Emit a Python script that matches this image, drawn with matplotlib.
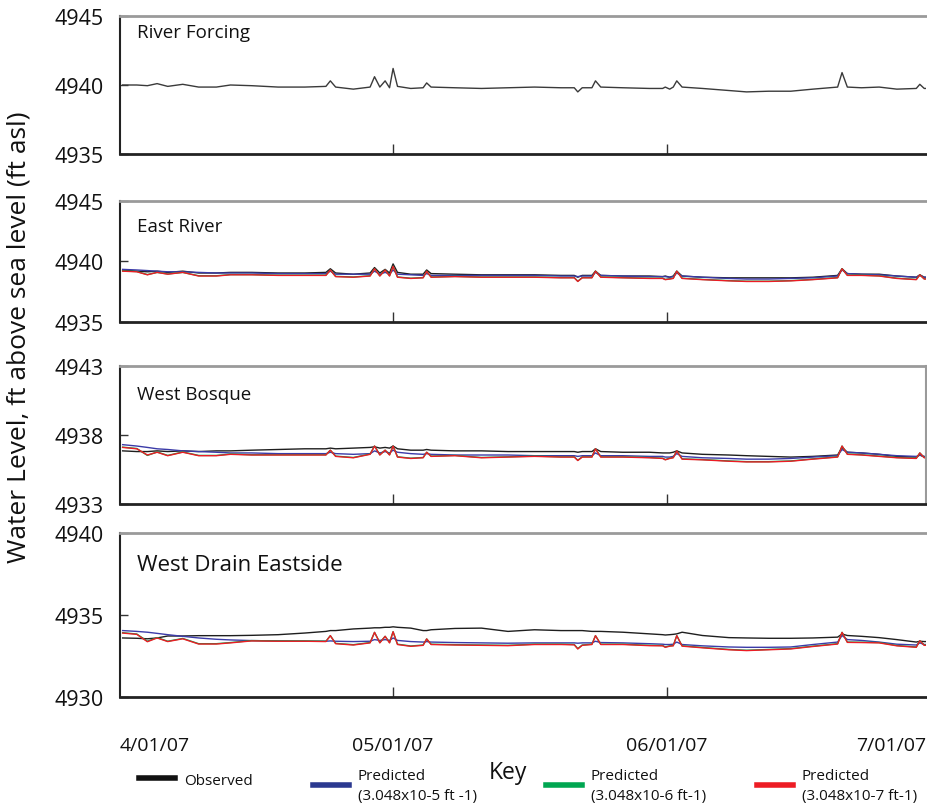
import matplotlib
matplotlib.use("Agg")
import matplotlib.pyplot as plt
from matplotlib.lines import Line2D

plt.rcParams['font.family'] = ['Open Sans', 'DejaVu Sans']

# ---------------- data (days since 4/01/07) ----------------
day = [-0.6, 1.0, 2.2, 3.3, 4.5, 6.2, 8.0, 10.0, 11.6, 14.0, 17.0, 20.0, 22.4, 22.9, 23.5,
       25.5, 27.4, 27.9, 28.5, 29.1, 29.6, 30.0, 30.5, 32.0, 33.4, 33.8, 34.3, 37.0, 40.0,
       43.0, 46.0, 49.0, 50.5, 50.9, 51.4, 52.5, 52.9, 53.5, 56.0, 59.0, 60.5, 60.8, 61.3,
       61.7, 62.1, 62.7, 65.0, 68.0, 70.0, 72.5, 75.0, 77.5, 80.3, 80.8, 81.4, 83.0, 85.0,
       87.0, 89.2, 89.6, 90.1, 91.5]

river_forcing = [4940.0, 4940.0, 4939.95, 4940.1, 4939.9, 4940.05, 4939.85, 4939.85, 4940.0, 4939.95,
                 4939.85, 4939.85, 4939.9, 4940.3, 4939.85, 4939.7, 4939.85, 4940.6, 4939.85, 4940.3,
                 4939.8, 4941.2, 4939.9, 4939.75, 4939.8, 4940.15, 4939.85, 4939.8, 4939.75, 4939.8,
                 4939.85, 4939.8, 4939.8, 4939.5, 4939.8, 4939.8, 4940.3, 4939.85, 4939.8, 4939.75,
                 4939.75, 4939.85, 4939.7, 4939.85, 4940.3, 4939.85, 4939.75, 4939.6, 4939.5, 4939.55,
                 4939.55, 4939.7, 4939.85, 4940.9, 4939.85, 4939.8, 4939.85, 4939.7, 4939.75, 4940.05,
                 4939.75, 4939.75]

er_obs = [4939.3, 4939.2, 4939.15, 4939.2, 4939.1, 4939.2, 4939.05, 4939.05, 4939.1, 4939.1,
          4939.05, 4939.05, 4939.1, 4939.4, 4939.05, 4938.95, 4939.05, 4939.5, 4939.05, 4939.35,
          4939.05, 4939.8, 4939.1, 4938.95, 4938.95, 4939.3, 4939.0, 4938.95, 4938.9, 4938.9,
          4938.9, 4938.85, 4938.85, 4938.7, 4938.85, 4938.85, 4939.2, 4938.85, 4938.8, 4938.8,
          4938.75, 4938.8, 4938.7, 4938.8, 4939.2, 4938.8, 4938.7, 4938.65, 4938.65, 4938.65,
          4938.65, 4938.7, 4938.85, 4939.4, 4939.0, 4938.95, 4938.95, 4938.8, 4938.7, 4938.9,
          4938.7, 4938.7]
er_p5 = [4939.35, 4939.3, 4939.25, 4939.2, 4939.15, 4939.15, 4939.1, 4939.05, 4939.05, 4939.05,
         4939.0, 4939.0, 4939.0, 4939.2, 4938.95, 4938.95, 4938.95, 4939.2, 4938.95, 4939.1,
         4938.95, 4939.3, 4938.95, 4938.9, 4938.85, 4939.0, 4938.85, 4938.85, 4938.85, 4938.85,
         4938.85, 4938.8, 4938.8, 4938.75, 4938.8, 4938.8, 4939.1, 4938.85, 4938.8, 4938.75,
         4938.75, 4938.75, 4938.7, 4938.75, 4939.05, 4938.8, 4938.7, 4938.6, 4938.55, 4938.55,
         4938.6, 4938.65, 4938.8, 4939.3, 4939.0, 4938.95, 4938.9, 4938.8, 4938.7, 4938.85,
         4938.7, 4938.65]
er_p6 = [4939.22, 4939.17, 4938.92, 4939.1, 4938.97, 4939.1, 4938.82, 4938.82, 4938.92, 4938.92,
         4938.87, 4938.87, 4938.87, 4939.3, 4938.77, 4938.72, 4938.82, 4939.4, 4938.82, 4939.3,
         4938.82, 4939.6, 4938.72, 4938.62, 4938.67, 4939.2, 4938.72, 4938.77, 4938.72, 4938.72,
         4938.72, 4938.67, 4938.67, 4938.37, 4938.67, 4938.67, 4939.2, 4938.72, 4938.67, 4938.62,
         4938.62, 4938.52, 4938.57, 4938.62, 4939.2, 4938.62, 4938.52, 4938.42, 4938.37, 4938.37,
         4938.42, 4938.52, 4938.67, 4939.4, 4938.87, 4938.87, 4938.82, 4938.62, 4938.52, 4938.9,
         4938.57, 4938.57]
er_p7 = [4939.2, 4939.15, 4938.9, 4939.1, 4938.95, 4939.1, 4938.8, 4938.8, 4938.9, 4938.9,
         4938.85, 4938.85, 4938.85, 4939.3, 4938.75, 4938.7, 4938.8, 4939.4, 4938.8, 4939.3,
         4938.8, 4939.6, 4938.7, 4938.6, 4938.65, 4939.2, 4938.7, 4938.75, 4938.7, 4938.7,
         4938.7, 4938.65, 4938.65, 4938.35, 4938.65, 4938.65, 4939.2, 4938.7, 4938.65, 4938.6,
         4938.6, 4938.5, 4938.55, 4938.6, 4939.2, 4938.6, 4938.5, 4938.4, 4938.35, 4938.35,
         4938.4, 4938.5, 4938.65, 4939.4, 4938.85, 4938.85, 4938.8, 4938.6, 4938.5, 4938.9,
         4938.55, 4938.55]

wb_obs = [4936.85, 4936.8, 4936.8, 4936.85, 4936.8, 4936.85, 4936.8, 4936.85, 4936.85, 4936.9,
          4936.95, 4937.0, 4937.0, 4937.05, 4937.0, 4937.05, 4937.1, 4937.15, 4937.05, 4937.1,
          4937.05, 4937.2, 4937.0, 4936.9, 4936.9, 4936.95, 4936.9, 4936.85, 4936.85, 4936.8,
          4936.8, 4936.8, 4936.8, 4936.75, 4936.8, 4936.8, 4937.0, 4936.8, 4936.75, 4936.75,
          4936.7, 4936.7, 4936.7, 4936.75, 4936.85, 4936.7, 4936.6, 4936.55, 4936.5, 4936.45,
          4936.4, 4936.45, 4936.55, 4937.1, 4936.75, 4936.7, 4936.6, 4936.45, 4936.4, 4936.55,
          4936.4, 4936.4]
wb_p5 = [4937.3, 4937.2, 4937.1, 4937.0, 4936.95, 4936.85, 4936.8, 4936.75, 4936.7, 4936.7,
         4936.65, 4936.65, 4936.65, 4936.75, 4936.65, 4936.6, 4936.65, 4936.85, 4936.7, 4936.8,
         4936.7, 4936.9, 4936.75, 4936.65, 4936.6, 4936.65, 4936.6, 4936.55, 4936.55, 4936.55,
         4936.5, 4936.5, 4936.5, 4936.45, 4936.5, 4936.5, 4936.7, 4936.5, 4936.5, 4936.45,
         4936.45, 4936.4, 4936.4, 4936.45, 4936.65, 4936.45, 4936.35, 4936.3, 4936.25, 4936.25,
         4936.3, 4936.4, 4936.5, 4936.95, 4936.75, 4936.7, 4936.6, 4936.5, 4936.45, 4936.55,
         4936.45, 4936.45]
wb_p6 = [4937.12, 4937.02, 4936.52, 4936.77, 4936.52, 4936.77, 4936.52, 4936.52, 4936.62, 4936.57,
         4936.57, 4936.57, 4936.57, 4936.9, 4936.47, 4936.37, 4936.62, 4937.2, 4936.57, 4936.9,
         4936.57, 4937.2, 4936.42, 4936.32, 4936.37, 4936.75, 4936.47, 4936.52, 4936.37, 4936.42,
         4936.47, 4936.42, 4936.42, 4936.17, 4936.42, 4936.42, 4937.0, 4936.42, 4936.42, 4936.37,
         4936.32, 4936.22, 4936.32, 4936.37, 4936.85, 4936.27, 4936.22, 4936.12, 4936.07, 4936.07,
         4936.12, 4936.27, 4936.42, 4937.2, 4936.62, 4936.57, 4936.47, 4936.37, 4936.32, 4936.7,
         4936.37, 4936.42]
wb_p7 = [4937.1, 4937.0, 4936.55, 4936.75, 4936.5, 4936.75, 4936.5, 4936.5, 4936.6, 4936.55,
         4936.55, 4936.55, 4936.55, 4936.9, 4936.45, 4936.35, 4936.6, 4937.2, 4936.55, 4936.9,
         4936.55, 4937.2, 4936.4, 4936.3, 4936.35, 4936.75, 4936.45, 4936.5, 4936.35, 4936.4,
         4936.45, 4936.4, 4936.4, 4936.15, 4936.4, 4936.4, 4937.0, 4936.4, 4936.4, 4936.35,
         4936.3, 4936.2, 4936.3, 4936.35, 4936.85, 4936.25, 4936.2, 4936.1, 4936.05, 4936.05,
         4936.1, 4936.25, 4936.4, 4937.2, 4936.6, 4936.55, 4936.45, 4936.35, 4936.3, 4936.7,
         4936.35, 4936.4]

wde_obs = [4933.6, 4933.58, 4933.55, 4933.6, 4933.72, 4933.72, 4933.74, 4933.74, 4933.74, 4933.76,
           4933.8, 4933.9, 4934.0, 4934.05, 4934.05, 4934.15, 4934.2, 4934.22, 4934.22, 4934.25,
           4934.25, 4934.28, 4934.25, 4934.2, 4934.05, 4934.05, 4934.1, 4934.18, 4934.2, 4934.0,
           4934.1, 4934.05, 4934.05, 4934.05, 4934.05, 4934.0, 4934.0, 4934.0, 4933.95, 4933.85,
           4933.8, 4933.78, 4933.8, 4933.82, 4933.85, 4933.95, 4933.75, 4933.62, 4933.6, 4933.58,
           4933.58, 4933.6, 4933.65, 4933.84, 4933.75, 4933.7, 4933.62, 4933.5, 4933.35, 4933.4,
           4933.38, 4933.38]
wde_p5 = [4934.05, 4934.0, 4933.95, 4933.88, 4933.8, 4933.7, 4933.6, 4933.52, 4933.48, 4933.44,
          4933.42, 4933.4, 4933.4, 4933.42, 4933.4, 4933.38, 4933.4, 4933.5, 4933.45, 4933.5,
          4933.45, 4933.6, 4933.45, 4933.38, 4933.35, 4933.38, 4933.35, 4933.32, 4933.3, 4933.28,
          4933.3, 4933.3, 4933.3, 4933.28, 4933.3, 4933.3, 4933.4, 4933.32, 4933.3, 4933.25,
          4933.22, 4933.2, 4933.2, 4933.22, 4933.35, 4933.2, 4933.12, 4933.05, 4933.03, 4933.03,
          4933.05, 4933.2, 4933.35, 4933.75, 4933.5, 4933.45, 4933.35, 4933.22, 4933.17, 4933.3,
          4933.2, 4933.2]
wde_p6 = [4933.92, 4933.84, 4933.4, 4933.62, 4933.4, 4933.57, 4933.25, 4933.25, 4933.32, 4933.44,
          4933.42, 4933.42, 4933.4, 4933.74, 4933.27, 4933.19, 4933.32, 4933.94, 4933.32, 4933.7,
          4933.32, 4933.98, 4933.22, 4933.11, 4933.17, 4933.54, 4933.22, 4933.19, 4933.17, 4933.15,
          4933.22, 4933.22, 4933.2, 4932.95, 4933.17, 4933.22, 4933.74, 4933.22, 4933.22, 4933.15,
          4933.14, 4933.05, 4933.12, 4933.14, 4933.74, 4933.12, 4933.02, 4932.9, 4932.85, 4932.9,
          4932.95, 4933.1, 4933.25, 4933.94, 4933.35, 4933.34, 4933.32, 4933.14, 4933.05, 4933.43,
          4933.17, 4933.19]
wde_p7 = [4933.9, 4933.82, 4933.37, 4933.6, 4933.38, 4933.55, 4933.23, 4933.23, 4933.3, 4933.42,
          4933.4, 4933.4, 4933.38, 4933.74, 4933.25, 4933.17, 4933.3, 4933.94, 4933.3, 4933.7,
          4933.3, 4933.98, 4933.2, 4933.09, 4933.15, 4933.54, 4933.2, 4933.17, 4933.15, 4933.13,
          4933.2, 4933.2, 4933.18, 4932.93, 4933.15, 4933.2, 4933.74, 4933.2, 4933.2, 4933.13,
          4933.12, 4933.03, 4933.1, 4933.12, 4933.74, 4933.1, 4933.0, 4932.88, 4932.83, 4932.88,
          4932.93, 4933.08, 4933.23, 4933.94, 4933.33, 4933.32, 4933.3, 4933.12, 4933.03, 4933.43,
          4933.15, 4933.17]

panel_titles = ["River Forcing", "East River", "West Bosque", "West Drain Eastside"]
panel_yticks = [[4935, 4940, 4945], [4935, 4940, 4945], [4933, 4938, 4943], [4930, 4935, 4940]]
date_ticks = [-0.9, 30, 61, 90.3]
date_labels = ["4/01/07", "05/01/07", "06/01/07", "7/01/07"]
legend_labels = ["Observed", "Predicted\n(3.048x10-5 ft -1)", "Predicted\n(3.048x10-6 ft-1)",
                 "Predicted\n(3.048x10-7 ft-1)"]

# ---------------- styling ----------------
C_OBS = "#1e1e1e"
C_P5 = "#3b3ba8"
C_P6 = "#00a651"
C_P7 = "#ed1c24"
LEG_COLORS = ["#111111", "#2b3990", "#00a651", "#ed1c24"]

fig = plt.figure(figsize=(9.27, 8.12), dpi=100)
left, width = 120 / 927, 806 / 927
boxes = [(17, 155), (202, 323), (367, 505), (534, 698)]
axes = []
for top, bot in boxes:
    ax = fig.add_axes([left, 1 - bot / 812, width, (bot - top) / 812])
    axes.append(ax)

series = [
    [(river_forcing, "#3a3a3a")],
    [(er_obs, C_OBS), (er_p5, C_P5), (er_p6, C_P6), (er_p7, C_P7)],
    [(wb_obs, C_OBS), (wb_p5, C_P5), (wb_p6, C_P6), (wb_p7, C_P7)],
    [(wde_obs, C_OBS), (wde_p5, C_P5), (wde_p6, C_P6), (wde_p7, C_P7)],
]
title_sizes = [13.5, 13.5, 13.5, 16]
title_y = [0.885, 0.79, 0.80, 0.81]

for i, ax in enumerate(axes):
    for vals, col in series[i]:
        ax.plot(day, vals, color=col, lw=1.0)
    yt = panel_yticks[i]
    ax.set_ylim(yt[0], yt[-1])
    ax.set_xlim(date_ticks[0], date_ticks[-1])
    ax.set_yticks(yt)
    ax.set_yticklabels([str(v) for v in yt])
    ax.tick_params(axis='y', direction='in', length=6, width=1, labelsize=15.5, pad=12,
                   color='#333333', labelcolor='#111111')
    ax.set_xticks([30, 61])
    ax.tick_params(axis='x', direction='in', length=7, width=1, color='#333333')
    if i < 3:
        ax.set_xticklabels([])
    ax.spines['left'].set_color('#222222')
    ax.spines['left'].set_linewidth(1.5)
    ax.spines['bottom'].set_color('#222222')
    ax.spines['bottom'].set_linewidth(2)
    ax.spines['top'].set_color('#9a9a9a')
    ax.spines['top'].set_linewidth(2)
    ax.spines['right'].set_color('#9a9a9a')
    ax.spines['right'].set_linewidth(1.5)
    ax.spines['right'].set_visible(i == 2)
    ax.text(0.021, title_y[i], panel_titles[i], transform=ax.transAxes,
            fontsize=title_sizes[i], va='center', ha='left', color='#111111')

# bottom panel date labels
axb = axes[3]
axb.set_xticks(date_ticks)
axb.set_xticklabels(date_labels)
axb.tick_params(axis='x', labelsize=14, pad=28, labelcolor='#111111')
xt = axb.xaxis.get_major_ticks()
for k in (0, 3):
    xt[k].tick1line.set_visible(False)
lbls = axb.get_xticklabels()
lbls[0].set_ha('left')
lbls[3].set_ha('right')

fig.text(0.021, 0.585, "Water Level, ft above sea level (ft asl)", rotation=90,
         fontsize=19, ha='center', va='center', color='#111111')

fig.text(0.548, 0.048, "Key", fontsize=16.5, ha='center', va='center', color='#111111')

legend_x = [125, 299, 532, 743]
legend_top = [760, 755, 755, 755]
for h_col, lab, lx, ly in zip(LEG_COLORS, legend_labels, legend_x, legend_top):
    leg = fig.legend([Line2D([], [], color=h_col, lw=4)], [lab], loc='upper left',
                     bbox_to_anchor=(lx / 927, 1 - ly / 812), frameon=False, fontsize=11,
                     handlelength=2.4, handletextpad=0.55)
    for t in leg.get_texts():
        t.set_linespacing(1.45)
        t.set_color('#111111')

fig.savefig("out.png", dpi=100)
